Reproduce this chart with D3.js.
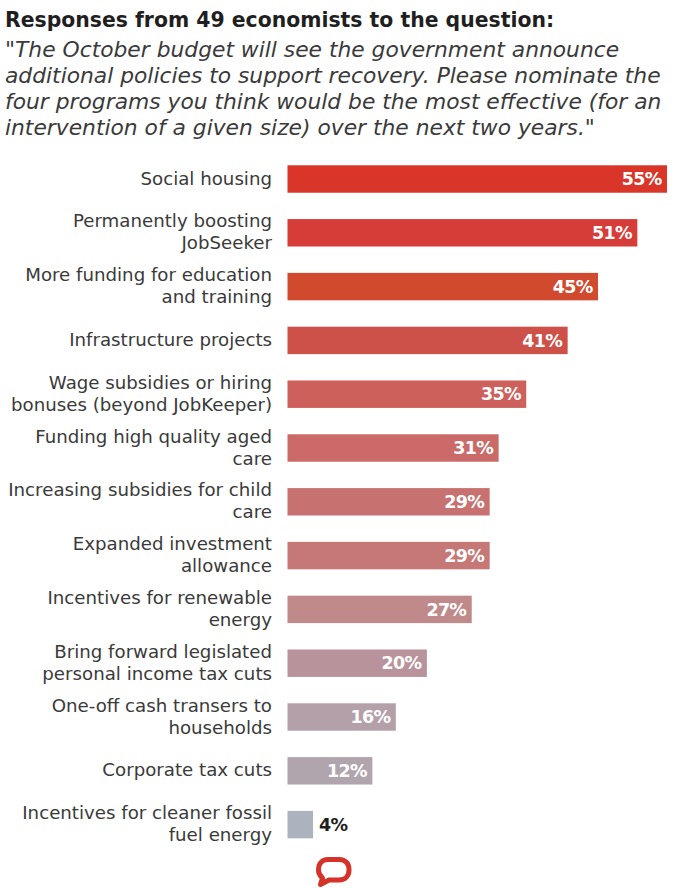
<!DOCTYPE html>
<html><head><meta charset="utf-8">
<script src="https://cdn.jsdelivr.net/npm/d3@7"></script>
<style>html,body{margin:0;padding:0;background:#fff}svg{display:block}text{font-family:"DejaVu Sans",sans-serif}</style>
</head><body><div id="c"></div>
<script>
const title="Responses from 49 economists to the question:";
const question=['"The October budget will see the government announce','additional policies to support recovery. Please nominate the','four programs you think would be the most effective (for an','intervention of a given size) over the next two years."'];
const categories=[
["Social housing"],["Permanently boosting","JobSeeker"],["More funding for education","and training"],["Infrastructure projects"],
["Wage subsidies or hiring","bonuses (beyond JobKeeper)"],["Funding high quality aged","care"],["Increasing subsidies for child","care"],
["Expanded investment","allowance"],["Incentives for renewable","energy"],["Bring forward legislated","personal income tax cuts"],
["One-off cash transers to","households"],["Corporate tax cuts"],["Incentives for cleaner fossil","fuel energy"]];
const shares=[55,50.7,45,40.6,34.6,30.6,29.3,29.3,26.7,20.2,15.7,12.3,3.7];
const palette=["#D93529","#D63C38","#D14A2E","#CE5149","#CE605C","#CB6B69","#C77270","#C67876","#C08A8A","#B9939B","#B4A0A9","#B1A5AD","#ACB3BE"];
const W=676,H=889;
const svg=d3.select("#c").append("svg").attr("width",W).attr("height",H);
svg.append("text").attr("x",5).attr("y",26.5).attr("font-size",20.4).attr("font-weight",700).attr("fill","#1f1f1f").text(title);
svg.selectAll("text.q").data(question).join("text").attr("class","q").attr("x",5).attr("font-style","italic")
 .attr("font-size",21.8).attr("fill","#3a3a3a").attr("y",(d,i)=>57+i*26.1).text(d=>d);
const x=d3.scaleLinear().domain([0,55]).range([287.5,667]);
const y=d3.scaleBand().domain(d3.range(categories.length)).range([152.1,851.5]).paddingInner(0.49).paddingOuter(0.245);
const color=d3.scaleOrdinal().domain(d3.range(categories.length)).range(palette);
const g=svg.selectAll("g.r").data(categories).join("g").attr("class","r");
g.append("rect").attr("x",x(0)).attr("y",(d,i)=>y(i)).attr("width",(d,i)=>x(shares[i])-x(0)).attr("height",y.bandwidth()).attr("fill",(d,i)=>color(i));
g.each(function(lines,i){
  const cy=y(i)+y.bandwidth()/2, s=d3.select(this);
  lines.forEach((l,k)=>s.append("text").attr("x",272).attr("y",cy+(k-(lines.length-1)/2)*22+5.5).attr("text-anchor","end").attr("font-size",18.2).attr("fill","#3a3a3a").text(l));
  const small=shares[i]<8;
  s.append("text").attr("x",small?x(shares[i])+6:x(shares[i])-5.5).attr("y",cy+6.2).attr("text-anchor",small?"start":"end")
   .attr("font-size",17.5).attr("letter-spacing",-0.7).attr("font-weight",700).attr("fill",small?"#1f1f1f":"#fff").text(d3.format(".0f")(shares[i])+"%");
});
svg.append("path").attr("fill","none").attr("stroke","#D5322A").attr("stroke-width",5).attr("stroke-linejoin","round")
 .attr("d","M328 859.5H339C346 859.5 349 864 349 870C349 875.5 345.500 880 339 880H329L320.500 884.500L322.500 878C320 876 318.500 873.500 318.500 870C318.500 864 321.500 859.500 328 859.500Z");
</script></body></html>
